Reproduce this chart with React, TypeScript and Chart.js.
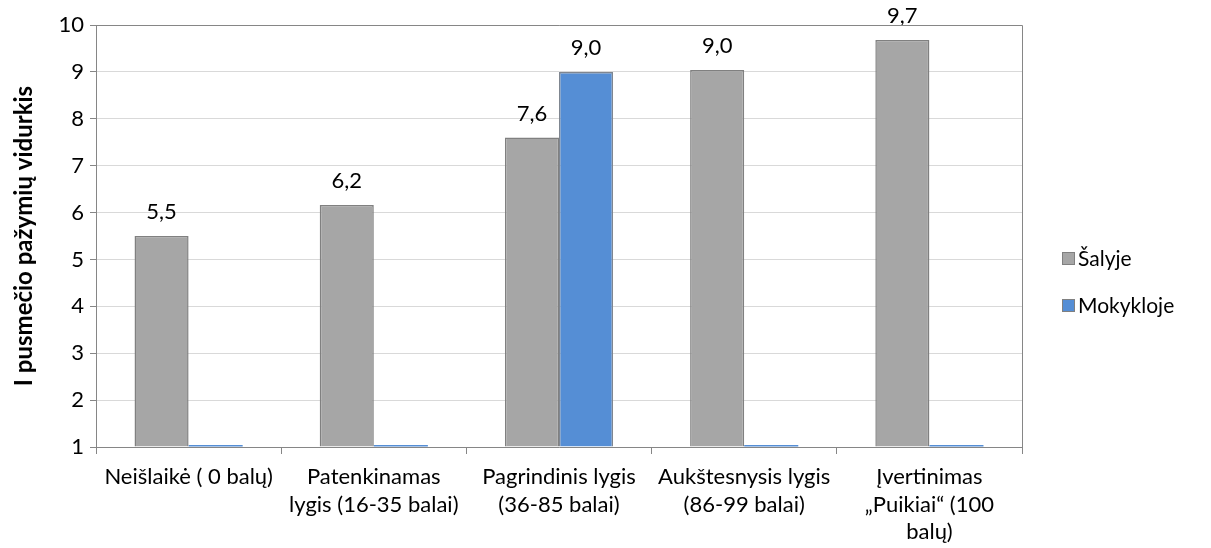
import React, { useEffect, useRef } from "react";
import { Chart, registerables } from "chart.js";

Chart.register(...registerables);

const categories: (string | string[])[] = [
  "Neišlaikė ( 0 balų)",
  ["Patenkinamas", "lygis (16-35 balai)"],
  ["Pagrindinis lygis", "(36-85 balai)"],
  ["Aukštesnysis lygis", "(86-99 balai)"],
  ["Įvertinimas", "„Puikiai“ (100", "balų)"],
];
const salyjeValues = [5.5, 6.16, 7.6, 9.04, 9.68];
const mokyklojeValues = [1, 1, 9.0, 1, 1];
const seriesNames = ["Šalyje", "Mokykloje"];
const yTitle = "I pusmečio pažymių vidurkis";
const yMin = 1;
const yMax = 10;

const FONT = "Lato, 'Open Sans', sans-serif";

const labelPlugin = {
  id: "valueLabels",
  afterDatasetsDraw(chart: any) {
    const ctx = chart.ctx;
    const yScale = chart.scales.y;
    ctx.save();
    ctx.font = `22px ${FONT}`;
    ctx.fillStyle = "#000";
    ctx.textAlign = "center";
    ctx.textBaseline = "alphabetic";
    chart.data.datasets.forEach((ds: any, di: number) => {
      const meta = chart.getDatasetMeta(di);
      meta.data.forEach((bar: any, i: number) => {
        const v = ds.data[i];
        if (v <= yScale.min) return;
        ctx.fillText(v.toFixed(1).replace(".", ","), bar.x, bar.y - 17);
      });
    });
    ctx.restore();
  },
};

const framePlugin = {
  id: "frame",
  afterDraw(chart: any) {
    const { ctx, chartArea } = chart;
    ctx.save();
    ctx.strokeStyle = "#868686";
    ctx.lineWidth = 1;
    ctx.beginPath();
    ctx.moveTo(chartArea.left, chartArea.top + 0.5);
    ctx.lineTo(chartArea.right + 0.5, chartArea.top + 0.5);
    ctx.lineTo(chartArea.right + 0.5, chartArea.bottom);
    ctx.stroke();
    // legend
    const items = chart.data.datasets;
    const x = 1062;
    const ys = [258, 305];
    ctx.font = `21px ${FONT}`;
    ctx.textBaseline = "middle";
    ctx.textAlign = "left";
    items.forEach((ds: any, i: number) => {
      ctx.fillStyle = ds.backgroundColor;
      ctx.fillRect(x, ys[i] - 6, 13, 13);
      ctx.strokeStyle = "#808080";
      ctx.strokeRect(x + 0.5, ys[i] - 5.5, 12, 12);
      ctx.fillStyle = "#000";
      ctx.fillText(ds.label, x + 16, ys[i] + 1);
    });
    ctx.restore();
  },
};

export default function App() {
  const ref = useRef<HTMLCanvasElement>(null);
  useEffect(() => {
    const chart = new Chart(ref.current!, {
      type: "bar",
      data: {
        labels: categories,
        datasets: [
          {
            label: seriesNames[0],
            data: salyjeValues,
            base: yMin,
            backgroundColor: "#a6a6a6",
            borderColor: "#808080",
            borderWidth: 1.5,
            categoryPercentage: 0.584,
            barPercentage: 1,
          },
          {
            label: seriesNames[1],
            data: mokyklojeValues,
            base: yMin,
            backgroundColor: "#558ed5",
            borderColor: "#7f8690",
            borderWidth: (c: any) => (c.raw <= yMin ? 0 : 1.5),
            categoryPercentage: 0.584,
            barPercentage: 1,
            minBarLength: 2,
            clip: false,
          },
        ],
      },
      options: {
        animation: false,
        responsive: false,
        maintainAspectRatio: false,
        layout: { padding: { left: 0, right: 189, top: 25, bottom: 0 } },
        plugins: {
          legend: { display: false },
          tooltip: { enabled: false },
        },
        scales: {
          x: {
            grid: {
              display: true,
              drawOnChartArea: false,
              drawTicks: true,
              tickLength: 7,
              color: "#868686",
              offset: true,
            },
            border: { color: "#868686", width: 1 },
            ticks: {
              color: "#000",
              font: { family: FONT, size: 22, lineHeight: 1.26 },
              padding: 9,
              maxRotation: 0,
              autoSkip: false,
            },
            afterFit: (s: any) => {
              s.height = 101;
            },
          },
          y: {
            min: yMin,
            max: yMax,
            ticks: {
              stepSize: 1,
              color: "#000",
              font: { family: FONT, size: 22 },
              padding: 6,
            },
            grid: {
              color: "#d9d9d9",
              tickColor: "#868686",
              tickLength: 6,
            },
            border: { color: "#868686", width: 1 },
            title: {
              display: true,
              text: yTitle,
              color: "#000",
              font: { family: FONT, size: 24, weight: "bold" },
              padding: { top: 10, bottom: 6 },
            },
            afterFit: (s: any) => {
              s.width = 96;
            },
          },
        },
      },
      plugins: [labelPlugin, framePlugin],
    });
    return () => chart.destroy();
  }, []);
  return (
    <div style={{ position: "fixed", left: 0, top: 0, width: 1211, height: 548, background: "#fff" }}>
      <canvas ref={ref} width={1211} height={548} style={{ width: 1211, height: 548 }} />
    </div>
  );
}
